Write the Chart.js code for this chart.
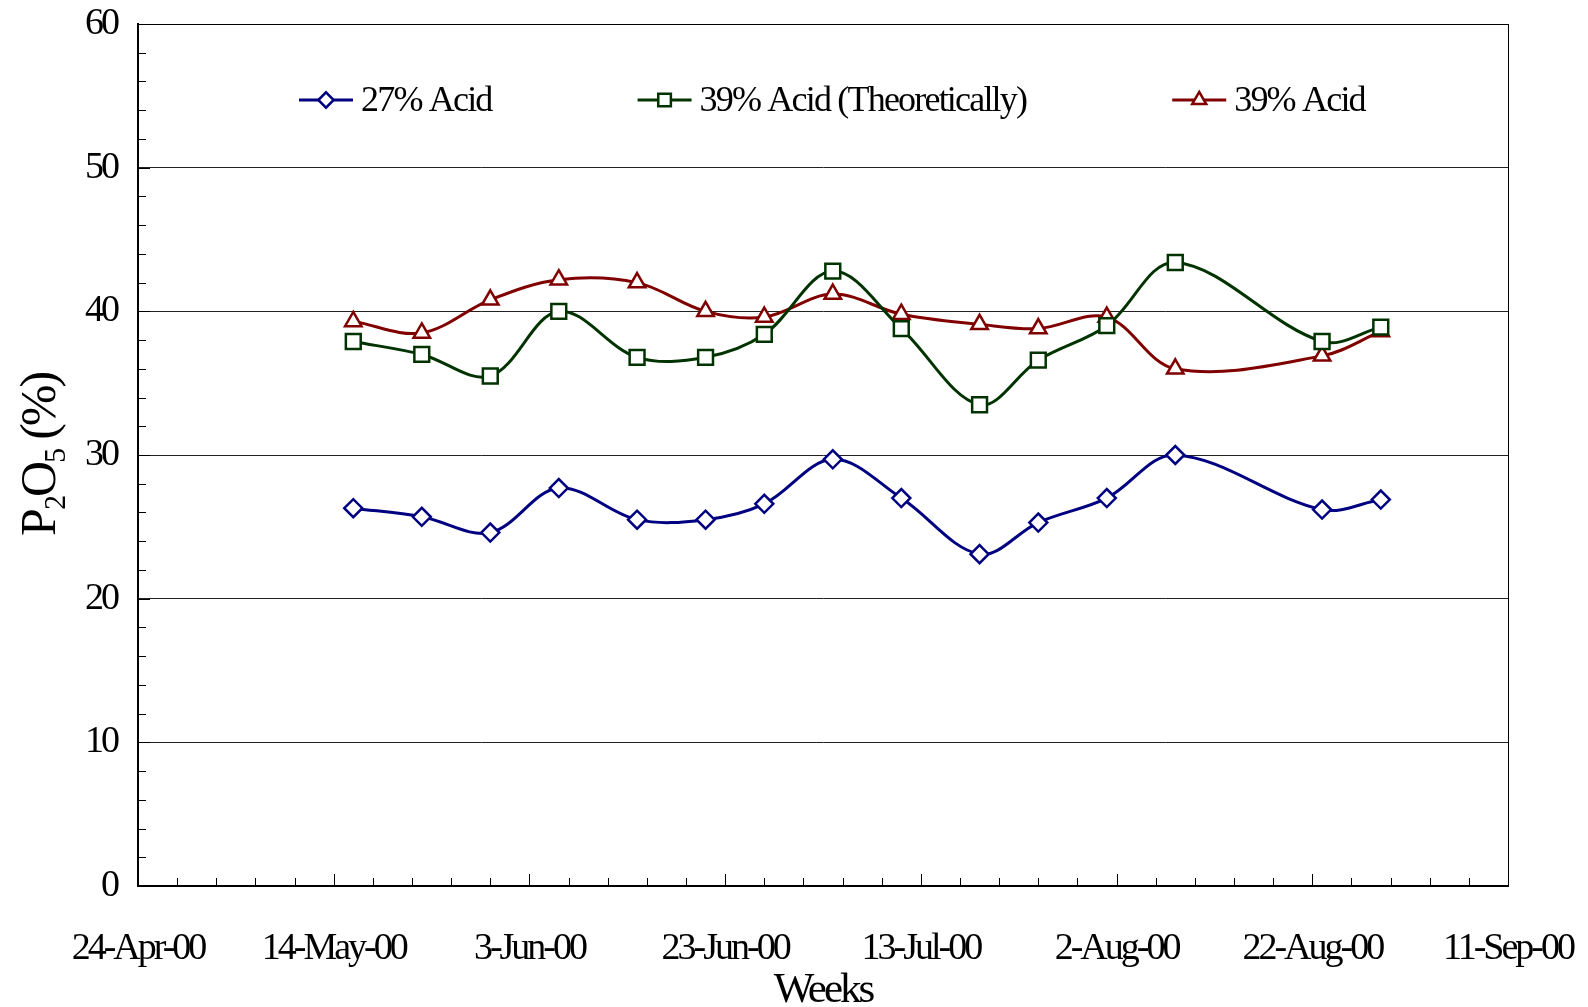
<!DOCTYPE html>
<html><head><meta charset="utf-8">
<script src="https://cdn.jsdelivr.net/npm/chart.js@4/dist/chart.umd.min.js"></script>
<style>html,body{margin:0;padding:0;background:#fff;}#wrap{width:1588px;height:1007px;}</style>
</head><body><div id="wrap"><canvas id="c" width="1588" height="1007"></canvas></div>
<script>
// ---- data ----
const dates = ['2000-05-16','2000-05-23','2000-05-30','2000-06-06','2000-06-14','2000-06-21','2000-06-27','2000-07-04','2000-07-11','2000-07-19','2000-07-25','2000-08-01','2000-08-08','2000-08-23','2000-08-29'];
const acid27 = [26.3,25.7,24.6,27.7,25.5,25.5,26.6,29.7,27.0,23.1,25.3,27.0,30.0,26.2,26.9];
const acid39Theo = [37.9,37.0,35.5,40.0,36.8,36.8,38.4,42.8,38.8,33.5,36.6,39.0,43.4,37.9,38.9];
const acid39 = [39.3,38.5,40.8,42.2,42.0,40.0,39.6,41.2,39.8,39.1,38.8,39.6,36.0,36.9,38.6];
const seriesNames = ['27% Acid','39% Acid (Theoretically)','39% Acid'];
const xStart = '2000-04-24', xEnd = '2000-09-11';
const xMajorDays = 20, xMinorDays = 4;
const yMin = 0, yMax = 60, yMajor = 10, yMinor = 2;
const yTitle = 'P₂O₅ (%)', xTitle = 'Weeks';
const monthNames = ['Jan','Feb','Mar','Apr','May','Jun','Jul','Aug','Sep','Oct','Nov','Dec'];

// ---- helpers ----
const DAY = 86400000;
const toUTC = s => { const [y,m,d] = s.split('-').map(Number); return Date.UTC(y,m-1,d); };
const origin = toUTC(xStart);
const dayOf = s => (toUTC(s) - origin) / DAY;
const fmt = v => { const d = new Date(origin + v*DAY); return d.getUTCDate()+'-'+monthNames[d.getUTCMonth()]+'-'+String(d.getUTCFullYear()%100).padStart(2,'0'); };
const pts = arr => dates.map((d,i) => ({x: dayOf(d), y: arr[i]}));

const FONT = '"Liberation Serif", "Times New Roman", serif';
const LS = '-3px';
const styles = [
  {color:'#000080', pointStyle:'rectRot', radius:9},
  {color:'#003300', pointStyle:'rect', radius:10.5},
  {color:'#800000', pointStyle:'triangle', radius:9.5}
];
const series = [acid27, acid39Theo, acid39];

const datasets = series.map((arr,i) => ({
  label: seriesNames[i],
  data: pts(arr),
  borderColor: styles[i].color,
  backgroundColor: '#fff',
  borderWidth: 3,
  pointStyle: styles[i].pointStyle,
  pointRadius: styles[i].radius,
  pointBorderWidth: 2.5,
  pointBackgroundColor: '#fff',
  pointBorderColor: styles[i].color,
  tension: 0.35,
  fill: false
}));

const spacingPlugin = {
  id: 'spacing',
  beforeUpdate(chart){ chart.ctx.letterSpacing = LS; },
  beforeDraw(chart){ chart.ctx.letterSpacing = LS; }
};

const noPad = s => { s.paddingTop = 0; s.paddingBottom = 0; s.paddingLeft = 0; s.paddingRight = 0; };

const decoPlugin = {
  id: 'deco',
  afterDatasetsDraw(chart){
    const ctx = chart.ctx, xs = chart.scales.x, ys = chart.scales.y, a = chart.chartArea;
    ctx.save();
    ctx.strokeStyle = '#000';
    ctx.lineWidth = 1;
    ctx.strokeRect(Math.round(a.left)+0.5, Math.round(a.top)+0.5, Math.round(a.right-a.left), Math.round(a.bottom-a.top));
    for (let d = xs.min; d <= xs.max + 1e-9; d += xMinorDays) {
      const px = Math.round(xs.getPixelForValue(d)) + 0.5;
      const len = (Math.abs(d % xMajorDays) < 1e-9) ? 12 : 8;
      ctx.beginPath(); ctx.moveTo(px, a.bottom); ctx.lineTo(px, a.bottom - len); ctx.stroke();
    }
    for (let v = ys.min; v <= ys.max + 1e-9; v += yMinor) {
      const py = Math.round(ys.getPixelForValue(v)) + 0.5;
      const len = (Math.abs(v % yMajor) < 1e-9) ? 12 : 8;
      ctx.beginPath(); ctx.moveTo(a.left, py); ctx.lineTo(a.left + len, py); ctx.stroke();
    }
    // legend inside plot area
    ctx.letterSpacing = '-1.8px';
    ctx.font = '36px ' + FONT;
    ctx.textBaseline = 'middle';
    ctx.textAlign = 'left';
    let x = a.left + 161;
    const y = 100;
    chart.data.datasets.forEach((ds,i) => {
      ctx.strokeStyle = ds.borderColor; ctx.lineWidth = 3;
      ctx.beginPath(); ctx.moveTo(x, y); ctx.lineTo(x + 54, y); ctx.stroke();
      ctx.fillStyle = '#fff'; ctx.strokeStyle = ds.borderColor; ctx.lineWidth = 2.5;
      Chart.helpers.drawPoint(ctx, {pointStyle: ds.pointStyle, radius: ds.pointRadius * 0.85, borderWidth: 2.5, rotation: 0}, x + 27, y);
      ctx.fillStyle = '#000';
      ctx.fillText(ds.label, x + 62, y + 2);
      x += 62 + ctx.measureText(ds.label).width + 146;
    });
    ctx.restore();
  }
};

new Chart(document.getElementById('c'), {
  type: 'line',
  data: { datasets },
  plugins: [spacingPlugin, decoPlugin],
  options: {
    responsive: false,
    animation: false,
    devicePixelRatio: 1,
    layout: { padding: { left: 0, right: 80, top: 24, bottom: 0 } },
    plugins: { legend: { display: false }, tooltip: { enabled: false } },
    scales: {
      x: {
        type: 'linear',
        min: dayOf(xStart), max: dayOf(xEnd),
        afterFit(s){ s.height = 121; noPad(s); },
        ticks: { stepSize: xMajorDays, autoSkip: false, maxRotation: 0, padding: 40, color: '#000',
                 font: { family: FONT, size: 38 }, callback: v => fmt(v) },
        grid: { drawOnChartArea: false, drawTicks: false },
        border: { display: true, color: '#000', width: 2 },
        title: { display: true, text: xTitle, color: '#000', font: { family: FONT, size: 43, lineHeight: 0.76 }, padding: { top: 0, bottom: 0 } }
      },
      y: {
        min: yMin, max: yMax,
        afterFit(s){ s.width = 138; noPad(s); },
        ticks: { stepSize: yMajor, padding: 21, color: '#000', font: { family: FONT, size: 38 } },
        grid: { drawTicks: false, lineWidth: 1,
                color: c => (c.tick && (c.tick.value === yMin || c.tick.value === yMax)) ? 'rgba(0,0,0,0)' : '#222' },
        border: { display: true, color: '#000', width: 2 },
        title: { display: true, text: yTitle, color: '#000', font: { family: FONT, size: 50, lineHeight: 1.0 }, padding: { top: 17, bottom: 0 } }
      }
    }
  }
});
</script>
</body></html>
